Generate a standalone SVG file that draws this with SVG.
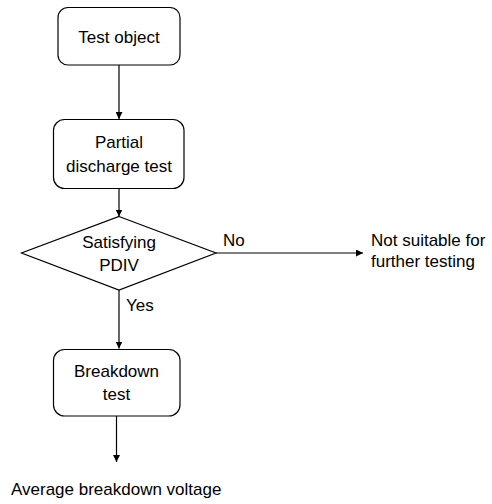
<svg xmlns="http://www.w3.org/2000/svg" width="492" height="504" viewBox="0 0 492 504">
<defs>
<style>
.box{fill:#fff;stroke:#000;stroke-width:1.2}
.t{font-family:"Liberation Sans",Arial,sans-serif;font-size:17px;fill:#000}
.c{text-anchor:middle}
.ln{stroke:#000;stroke-width:1.2;fill:none}
</style>
<marker id="ah" viewBox="0 0 10 10" refX="10" refY="5" markerWidth="7" markerHeight="7" markerUnits="userSpaceOnUse" orient="auto">
<path d="M0,0 L10,5 L0,10 z" fill="#000"/>
</marker>
</defs>
<rect width="492" height="504" fill="#fff"/>
<g id="connectors">
<line class="ln" x1="119" y1="65" x2="119" y2="119" marker-end="url(#ah)"/>
<line class="ln" x1="119" y1="189" x2="119" y2="216.5" marker-end="url(#ah)"/>
<line class="ln" x1="216" y1="253" x2="363" y2="253" marker-end="url(#ah)"/>
<line class="ln" x1="119" y1="290" x2="119" y2="348.5" marker-end="url(#ah)"/>
<line class="ln" x1="116.5" y1="416" x2="116.5" y2="462" marker-end="url(#ah)"/>
<text class="t" x="223" y="246">No</text>
<text class="t" x="126" y="311">Yes</text>
</g>
<g id="test-object">
<rect class="box" x="58" y="7.5" width="122" height="57.5" rx="10"/>
<text class="t c" x="119" y="43">Test object</text>
</g>
<g id="partial-discharge-test">
<rect class="box" x="53.5" y="119.5" width="130.5" height="69" rx="11"/>
<text class="t c" x="119" y="148">Partial</text>
<text class="t c" x="119" y="172">discharge test</text>
</g>
<g id="satisfying-pdiv">
<polygon class="box" points="119,216.5 216,253 119,290 21.5,253"/>
<text class="t c" x="119" y="248">Satisfying</text>
<text class="t c" x="119" y="271">PDIV</text>
</g>
<g id="not-suitable">
<text class="t" x="371" y="246">Not suitable for</text>
<text class="t" x="371" y="267">further testing</text>
</g>
<g id="breakdown-test">
<rect class="box" x="53.5" y="349.5" width="126.5" height="66.5" rx="11"/>
<text class="t c" x="116.5" y="377">Breakdown</text>
<text class="t c" x="116.5" y="400">test</text>
</g>
<g id="average-breakdown-voltage">
<text class="t" x="11" y="495">Average breakdown voltage</text>
</g>
</svg>
